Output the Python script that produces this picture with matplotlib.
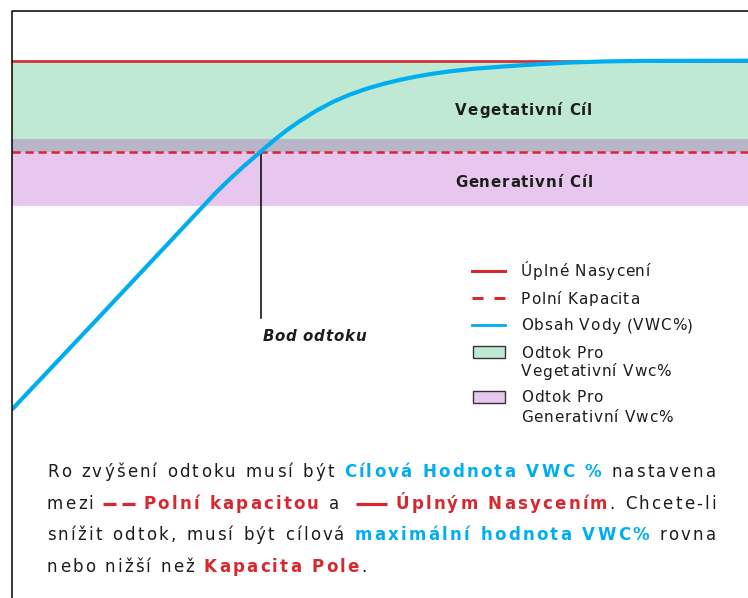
import matplotlib
matplotlib.use("Agg")
import matplotlib.pyplot as plt
from matplotlib import ft2font
from matplotlib.font_manager import FontProperties, findfont
from matplotlib.lines import Line2D
from matplotlib.patches import Rectangle
from matplotlib.transforms import IdentityTransform

# Water content curve (time as % of the cycle, VWC in %)
time_pts = [0, 11.96, 27.58, 29.62, 31.66, 33.70, 35.50, 37.32, 39.13, 41.40, 43.66,
            45.92, 48.19, 50.45, 52.72, 54.99, 57.24, 59.51, 62.64, 67.26, 71.74,
            76.22, 80.84, 85.33, 93.48, 100]
vwc_pts = [2.78, 15.42, 32.01, 34.00, 35.86, 37.61, 39.15, 40.58, 41.84, 43.26, 44.45,
           45.42, 46.21, 46.86, 47.41, 47.87, 48.25, 48.56, 48.90, 49.25, 49.54,
           49.77, 49.91, 49.97, 49.99, 50.0]

saturation = 50.0
field_capacity = 37.64
veg_target = (37.64, 50.0)
gen_target = (30.33, 39.4)
runoff_time = 33.8
runoff_line_bottom = 15.16

band_labels = ["Vegetativní Cíl", "Generativní Cíl"]
band_label_pos = [(69.6, 43.46), (69.6, 33.71)]
runoff_label = "Bod odtoku"
runoff_label_pos = (34.0, 12.86)

legend_labels = ["Úplné Nasycení", "Polní Kapacita", "Obsah Vody (VWC%)",
                 "Odtok Pro\nVegetativní Vwc%", "Odtok Pro\nGenerativní Vwc%"]

paragraph = [
    [("Ro zvýšení odtoku musí být ", "n"), ("Cílová Hodnota VWC %", "b"), (" nastavena", "n")],
    [("mezi ", "n"), ("", "dash"), (" Polní kapacitou", "r"), (" a  ", "n"), ("", "solid"),
     (" Úplným Nasycením", "r"), (". Chcete-li", "n")],
    [("snížit odtok, musí být cílová ", "n"), ("maximální hodnota VWC%", "b"), (" rovna", "n")],
    [("nebo nižší než ", "n"), ("Kapacita Pole", "r"), (".", "n")],
]

RED = "#D6282E"
BLUE = "#00AEEF"
GREEN = "#C0E9D4"
PINK = "#E8C7EE"
GRAY = "#B8B5CB"
DARK = "#1C1C1C"
FONT = "DejaVu Sans"

W, H = 748, 598
fig = plt.figure(figsize=(W / 100, H / 100), dpi=100)
ident = IdentityTransform()

ax = fig.add_axes([12 / W, (H - 430) / H, (W - 12) / W, 419 / H])
ax.set_xlim(0, 100)
ax.set_ylim(0, 56.73)
ax.axis("off")

ax.axhspan(veg_target[0], veg_target[1], color=GREEN, lw=0, zorder=0)
ax.axhspan(gen_target[0], gen_target[1], color=PINK, lw=0, zorder=0)
ax.axhspan(max(veg_target[0], gen_target[0]), min(veg_target[1], gen_target[1]),
           color=GRAY, lw=0, zorder=0.5)
ax.axhline(saturation, color=RED, lw=1.9, zorder=2)
ax.axhline(field_capacity, color=RED, lw=1.8, dashes=(3.3, 1.9), zorder=2)
ax.plot([runoff_time, runoff_time], [runoff_line_bottom, field_capacity],
        color="black", lw=1.1, zorder=2)
ax.plot(time_pts, vwc_pts, color=BLUE, lw=3.0, solid_capstyle="butt",
        solid_joinstyle="round", zorder=3)

# box around the whole graphic
fig.add_artist(Line2D([11.5, 11.5, W + 5], [-5, H - 11, H - 11], color="black",
                      lw=1.1, transform=ident))

# text with letter spacing, placed char by char
if hasattr(ft2font, "LoadFlags"):
    FLAG = ft2font.LoadFlags.NO_HINTING
else:
    FLAG = ft2font.LOAD_NO_HINTING
_fonts = {}


def advance(c, prop):
    key = (findfont(prop), prop.get_size_in_points())
    if key not in _fonts:
        f = ft2font.FT2Font(key[0])
        f.set_size(key[1], 100)
        _fonts[key] = f
    g = _fonts[key].load_char(ord(c), flags=FLAG)
    return g.linearHoriAdvance / 65536


def text_width(s, prop, track):
    return sum(advance(c, prop) + track for c in s)


def put_text(x, y, s, prop, color, track, ha="left", extra=0.0):
    if ha == "center":
        x -= text_width(s, prop, track) / 2
    for c in s:
        if c != " ":
            fig.text(x, y, c, fontproperties=prop, color=color, transform=ident,
                     va="baseline", ha="left")
        x += advance(c, prop) + track + (extra if c == " " else 0)
    return x


lab_prop = FontProperties(family=FONT, size=10.8, weight="bold")
for lab, (tx, vy) in zip(band_labels, band_label_pos):
    px, py = ax.transData.transform((tx, vy))
    put_text(px, py - 5.5, lab, lab_prop, DARK, 0.9, ha="center")

bod_prop = FontProperties(family=FONT, size=10.8, weight="bold", style="italic")
px, py = ax.transData.transform(runoff_label_pos)
put_text(px, py - 5.5, runoff_label, bod_prop, DARK, 0.7)

# legend
leg_prop = FontProperties(family=FONT, size=11)
row_y = [271, 298, 325, 352, 397]
for i, (lab, yc) in enumerate(zip(legend_labels, row_y)):
    yd = H - yc
    if i == 0:
        fig.add_artist(Line2D([472, 505], [yd, yd], color=RED, lw=2.2, transform=ident))
    elif i == 1:
        fig.add_artist(Line2D([472, 483], [yd, yd], color=RED, lw=2.2, transform=ident,
                              solid_capstyle="butt"))
        fig.add_artist(Line2D([494, 505], [yd, yd], color=RED, lw=2.2, transform=ident,
                              solid_capstyle="butt"))
    elif i == 2:
        fig.add_artist(Line2D([472, 505], [yd, yd], color=BLUE, lw=2.0, transform=ident))
    else:
        fc = GREEN if i == 3 else PINK
        fig.add_artist(Rectangle((473, yd - 6), 32, 12, facecolor=fc, edgecolor="#333333",
                                 lw=1.0, transform=ident))
    for j, part in enumerate(lab.split("\n")):
        put_text(521, yd - 5.5 - 19 * j, part, leg_prop, DARK, 0.8)

# paragraph
psize = 12
par_prop = {"n": FontProperties(family=FONT, size=psize),
            "b": FontProperties(family=FONT, size=psize, weight="bold"),
            "r": FontProperties(family=FONT, size=psize, weight="bold")}
par_col = {"n": DARK, "b": BLUE, "r": RED}
icon_w = {"dash": 32, "solid": 31}
track = 2.2
left, right = 47, 718
baselines = [477, 509, 540.5, 572]
for li, (line, base) in enumerate(zip(paragraph, baselines)):
    natural = 0.0
    nspace = 0
    for s, kind in line:
        if kind in icon_w:
            natural += icon_w[kind]
        else:
            natural += text_width(s, par_prop[kind], track)
            nspace += s.count(" ")
    extra = 0.0
    if li < len(paragraph) - 1 and nspace:
        extra = (right - left - natural) / nspace
    x = left
    yb = H - base
    for s, kind in line:
        if kind == "dash":
            fig.add_artist(Line2D([x, x + 13], [yb + 5, yb + 5], color=RED, lw=2.3,
                                  transform=ident, solid_capstyle="butt"))
            fig.add_artist(Line2D([x + 19, x + 32], [yb + 5, yb + 5], color=RED, lw=2.3,
                                  transform=ident, solid_capstyle="butt"))
            x += icon_w[kind]
        elif kind == "solid":
            fig.add_artist(Line2D([x, x + 31], [yb + 5, yb + 5], color=RED, lw=2.3,
                                  transform=ident, solid_capstyle="butt"))
            x += icon_w[kind]
        else:
            x = put_text(x, yb, s, par_prop[kind], par_col[kind], track, extra=extra)

fig.savefig("out.png", dpi=100, facecolor="white")
